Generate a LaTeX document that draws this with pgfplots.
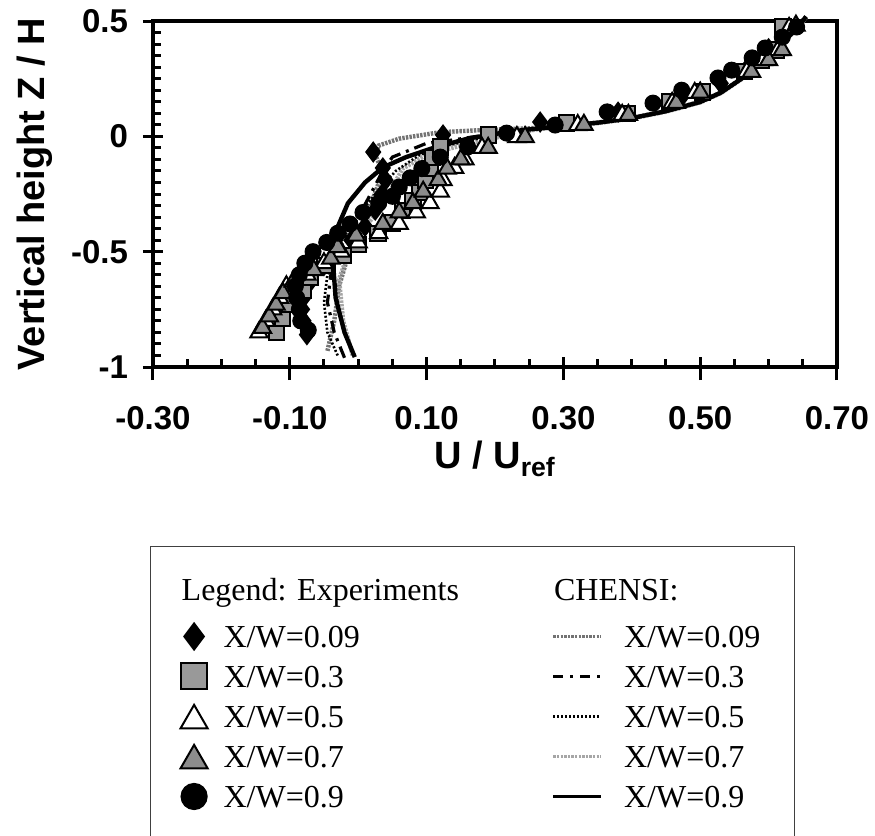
\documentclass[border=0pt]{standalone}
\usepackage{fontspec}
\setmainfont{Liberation Serif}
\setsansfont{Liberation Sans}
\usepackage{pgfplots}
\pgfplotsset{compat=1.18}
\tikzset{
  chA/.style={black!55, line width=2.2pt, dash pattern=on 1.2pt off 0.6pt},
  chB/.style={black, line width=1.6pt, dash pattern=on 6pt off 3pt on 1.5pt off 3pt},
  chC/.style={black, line width=1.3pt, dash pattern=on 1pt off 1pt},
  chD/.style={black!35, line width=2.2pt, dash pattern=on 1.2pt off 0.6pt},
  chE/.style={black, line width=2.2pt},
}
\begin{document}
\begin{tikzpicture}
\useasboundingbox (-76.5pt,-234.5pt) rectangle (361pt,183.5pt);
\begin{axis}[
  at={(0pt,0pt)}, anchor=south west,
  scale only axis, width=342pt, height=173pt,
  xmin=-0.3, xmax=0.7, ymin=-1, ymax=0.5,
  clip=false,
  axis line style={line width=2pt},
  xtick={-0.3,-0.1,0.1,0.3,0.5,0.7},
  xticklabels={-0.30,-0.10,0.10,0.30,0.50,0.70},
  ytick={-1,-0.5,0,0.5},
  yticklabels={-1,-0.5,0,0.5},
  minor x tick num=3, minor y tick num=9,
  tick align=inside, tick pos=left,
  major tick length=5pt, minor tick length=4pt,
  major tick style={black, line width=1.5pt},
  minor tick style={black, line width=1.5pt},
  extra x ticks={-0.3,-0.1,0.1,0.3,0.5,0.7}, extra x tick labels={},
  extra x tick style={tick align=outside, major tick length=6.5pt},
  extra y ticks={-1,-0.5,0,0.5}, extra y tick labels={},
  extra y tick style={tick align=outside, major tick length=5pt},
  tick label style={font=\sffamily\bfseries\fontsize{16.5}{19}\selectfont},
  xticklabel shift=16pt, yticklabel shift=9pt,
  xlabel={U / U\textsubscript{ref}},
  ylabel={Vertical height Z / H},
  every axis x label/.style={at={(axis description cs:0.5,-0.265)}, anchor=center,
    font=\sffamily\bfseries\fontsize{19}{22}\selectfont},
  every axis y label/.style={at={(axis description cs:-0.1725,0.5)}, rotate=90, anchor=center,
    font=\sffamily\bfseries\fontsize{19}{22}\selectfont},
  legend columns=2,
  legend cell align=left,
  legend style={at={(axis description cs:-0.0044,-0.517)}, anchor=north west,
    draw=black!75, line width=0.6pt, inner xsep=15pt, inner ysep=8pt,
    font=\fontsize{16}{19}\selectfont,
    column sep=0pt,
    /tikz/every odd column/.append style={column sep=6pt},
    /tikz/every even column/.append style={column sep=94pt},
    nodes={text height=13.3pt, text depth=2.7pt, inner xsep=2pt, inner ysep=2pt}},
]
% CHENSI lines
\addplot[chA, forget plot] table {
-0.045 -0.93
-0.035 -0.80
-0.028 -0.65
-0.015 -0.52
0.000 -0.42
0.015 -0.32
0.028 -0.22
0.035 -0.15
0.025 -0.08
0.030 -0.04
0.060 -0.01
0.120 0.018
0.180 0.027
0.250 0.035
0.300 0.045
0.350 0.060
0.400 0.080
0.450 0.110
0.500 0.150
0.530 0.190
0.560 0.250
0.590 0.320
0.615 0.390
0.635 0.450
0.655 0.520
};
\addplot[chD, forget plot] table {
-0.008 -0.95
-0.022 -0.80
-0.028 -0.62
-0.016 -0.52
0.003 -0.42
0.030 -0.32
0.050 -0.22
0.065 -0.14
0.100 -0.08
0.150 -0.04
0.210 0.000
0.260 0.030
0.300 0.042
0.350 0.057
0.400 0.077
0.450 0.107
0.500 0.147
0.530 0.187
0.560 0.247
0.590 0.317
0.615 0.387
0.635 0.447
0.655 0.517
};
\addplot[chC, forget plot] table {
-0.030 -0.95
-0.045 -0.85
-0.050 -0.72
-0.045 -0.60
-0.030 -0.48
-0.005 -0.36
0.025 -0.25
0.055 -0.15
0.090 -0.08
0.130 -0.04
0.190 0.000
0.250 0.030
0.300 0.043
0.350 0.058
0.400 0.078
0.450 0.108
0.500 0.148
0.530 0.188
0.560 0.248
0.590 0.318
0.615 0.388
0.635 0.448
0.655 0.518
};
\addplot[chB, forget plot] table {
-0.020 -0.96
-0.035 -0.85
-0.045 -0.72
-0.040 -0.60
-0.025 -0.47
0.000 -0.35
0.020 -0.24
0.036 -0.15
0.050 -0.09
0.100 -0.03
0.140 -0.015
0.200 0.012
0.250 0.032
0.300 0.044
0.350 0.059
0.400 0.079
0.450 0.109
0.500 0.149
0.530 0.189
0.560 0.249
0.590 0.319
0.615 0.389
0.635 0.449
0.655 0.519
};
\addplot[chE, forget plot] table {
-0.005 -0.957
-0.020 -0.85
-0.033 -0.70
-0.036 -0.58
-0.034 -0.42
-0.015 -0.29
0.010 -0.20
0.036 -0.135
0.070 -0.09
0.110 -0.05
0.160 -0.01
0.220 0.020
0.260 0.033
0.300 0.044
0.350 0.059
0.400 0.079
0.450 0.109
0.500 0.149
0.530 0.189
0.560 0.249
0.590 0.319
0.615 0.389
0.635 0.449
0.655 0.519
};
% Experiments
\addplot[only marks, forget plot, mark=diamond*, mark size=4.6pt,
  mark options={fill=black, draw=black, line width=1pt, solid}] table {
-0.075 -0.86
-0.080 -0.80
-0.082 -0.75
-0.080 -0.70
-0.070 -0.63
-0.050 -0.56
-0.030 -0.50
-0.010 -0.45
0.010 -0.39
0.025 -0.32
0.035 -0.25
0.040 -0.19
0.036 -0.137
0.022 -0.068
0.124 0.006
0.266 0.062
0.380 0.105
0.470 0.160
0.530 0.230
0.570 0.300
0.600 0.380
0.630 0.470
};
\addplot[only marks, forget plot, mark=square*, mark size=3.8pt,
  mark options={fill=black!40, draw=black, line width=1pt, solid}] table {
-0.119 -0.85
-0.111 -0.79
-0.100 -0.73
-0.080 -0.67
-0.070 -0.61
-0.049 -0.56
-0.022 -0.515
0.000 -0.47
0.029 -0.42
0.050 -0.376
0.065 -0.32
0.080 -0.28
0.090 -0.245
0.098 -0.19
0.105 -0.14
0.109 -0.09
0.120 -0.046
0.190 0.006
0.305 0.058
0.393 0.100
0.456 0.150
0.503 0.192
0.565 0.280
0.590 0.330
0.612 0.374
0.621 0.474
};
\addplot[only marks, forget plot, mark=triangle*, mark size=5pt,
  mark options={fill=white, draw=black, line width=1pt, solid}] table {
-0.145 -0.85
-0.135 -0.80
-0.125 -0.75
-0.115 -0.70
-0.105 -0.65
-0.075 -0.60
-0.050 -0.55
-0.025 -0.50
0.000 -0.46
0.030 -0.42
0.060 -0.38
0.085 -0.33
0.105 -0.29
0.120 -0.24
0.124 -0.19
0.141 -0.137
0.156 -0.10
0.181 -0.05
0.232 -0.003
0.321 0.049
0.386 0.093
0.459 0.145
0.492 0.188
0.568 0.280
0.592 0.330
0.614 0.374
0.630 0.470
};
\addplot[only marks, forget plot, mark=triangle*, mark size=5pt,
  mark options={fill=black!45, draw=black, line width=1pt, solid}] table {
-0.140 -0.83
-0.130 -0.78
-0.120 -0.73
-0.110 -0.68
-0.095 -0.63
-0.065 -0.58
-0.040 -0.53
-0.030 -0.48
-0.003 -0.43
0.036 -0.38
0.060 -0.33
0.080 -0.29
0.095 -0.24
0.117 -0.19
0.130 -0.14
0.150 -0.10
0.190 -0.05
0.244 -0.003
0.330 0.050
0.395 0.093
0.465 0.145
0.500 0.190
0.575 0.280
0.600 0.330
0.620 0.374
0.640 0.480
};
\addplot[only marks, forget plot, mark=*, mark size=4pt,
  mark options={fill=black, draw=black, line width=0.5pt, solid}] table {
-0.073 -0.84
-0.084 -0.80
-0.086 -0.75
-0.090 -0.70
-0.092 -0.65
-0.086 -0.60
-0.078 -0.55
-0.066 -0.50
-0.046 -0.46
-0.030 -0.42
-0.012 -0.38
0.007 -0.33
0.030 -0.29
0.050 -0.26
0.060 -0.22
0.076 -0.18
0.093 -0.14
0.120 -0.09
0.160 -0.046
0.217 0.014
0.288 0.049
0.364 0.106
0.431 0.144
0.473 0.200
0.526 0.253
0.546 0.287
0.576 0.340
0.595 0.383
0.620 0.430
0.641 0.474
};
% Legend
\addlegendimage{legend image code/.code={\node[overlay,anchor=west,inner xsep=0pt] at (-6.5pt,0pt) {Legend: Experiments};}}
\addlegendentry[text depth=9.7pt]{}
\addlegendimage{legend image code/.code={\node[overlay,anchor=west,inner xsep=0pt] at (0pt,0pt) {CHENSI:};}}
\addlegendentry[text depth=9.7pt]{}
\addlegendimage{legend image code/.code={\draw[mark=diamond*, mark size=6.5pt, mark options={fill=black, draw=black, line width=1pt, solid}] plot coordinates {(0pt,0pt)};}}
\addlegendentry{X/W=0.09}
\addlegendimage{legend image code/.code={\draw[chA, line width=1.6pt] (0pt,0pt) -- (24pt,0pt); \path (27pt,0pt);}}
\addlegendentry{X/W=0.09}
\addlegendimage{legend image code/.code={\draw[mark=square*, mark size=6.5pt, mark options={fill=black!40, draw=black, line width=1pt, solid}] plot coordinates {(0pt,0pt)};}}
\addlegendentry{X/W=0.3}
\addlegendimage{legend image code/.code={\draw[chB, line width=1.4pt, dash pattern=on 5pt off 3.5pt on 1.5pt off 3.5pt] (0pt,0pt) -- (24pt,0pt); \path (27pt,0pt);}}
\addlegendentry{X/W=0.3}
\addlegendimage{legend image code/.code={\draw[mark=triangle*, mark size=7.8pt, mark options={fill=white, draw=black, line width=1pt, solid}] plot coordinates {(0pt,-2pt)};}}
\addlegendentry{X/W=0.5}
\addlegendimage{legend image code/.code={\draw[chC, line width=1.1pt] (0pt,0pt) -- (24pt,0pt); \path (27pt,0pt);}}
\addlegendentry{X/W=0.5}
\addlegendimage{legend image code/.code={\draw[mark=triangle*, mark size=7.8pt, mark options={fill=black!45, draw=black, line width=1pt, solid}] plot coordinates {(0pt,-2pt)};}}
\addlegendentry{X/W=0.7}
\addlegendimage{legend image code/.code={\draw[chD, line width=1.6pt] (0pt,0pt) -- (24pt,0pt); \path (27pt,0pt);}}
\addlegendentry{X/W=0.7}
\addlegendimage{legend image code/.code={\draw[mark=*, mark size=6.5pt, mark options={fill=black, draw=black, solid}] plot coordinates {(0pt,0pt)};}}
\addlegendentry{X/W=0.9}
\addlegendimage{legend image code/.code={\draw[chE, line width=1.6pt] (0pt,0pt) -- (24pt,0pt); \path (27pt,0pt);}}
\addlegendentry{X/W=0.9}
\addlegendimage{empty legend}
\addlegendentry{}
\addlegendimage{empty legend}
\addlegendentry{}
\end{axis}
\end{tikzpicture}
\end{document}
